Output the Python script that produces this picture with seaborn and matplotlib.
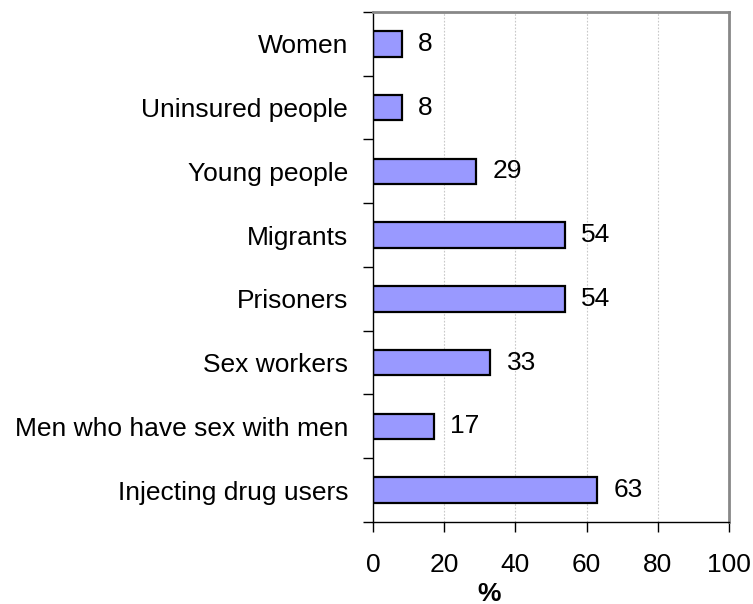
import pandas as pd
import numpy as np
import matplotlib.pyplot as plt
import seaborn as sns

groups = ["Women", "Uninsured people", "Young people", "Migrants", "Prisoners",
          "Sex workers", "Men who have sex with men", "Injecting drug users"]
percent = [8, 8, 29, 54, 54, 33, 17, 63]
x_ticks = [0, 20, 40, 60, 80, 100]

df = pd.DataFrame({"group": groups, "percent": percent})

sns.set_style("white", {"xtick.bottom": True, "ytick.left": True,
                        "text.color": "black", "xtick.color": "black",
                        "ytick.color": "black", "axes.labelcolor": "black"})
plt.rcParams["font.family"] = ["Liberation Sans", "DejaVu Sans"]
fs = 19

fig = plt.figure(figsize=(7.53, 6.04), dpi=100)
ax = fig.add_axes([0.4954, 0.1358, 0.4727, 0.8444])

sns.barplot(data=df, x="percent", y="group", orient="h", color="#9999FF",
            saturation=1, width=0.4, edgecolor="black", linewidth=1.6, ax=ax)

for i, v in enumerate(percent):
    ax.text(v + 4.5, i, str(v), va="center", ha="left", fontsize=fs, color="black")

ax.set_xlim(0, 100)
ax.set_ylim(len(groups) - 0.5, -0.5)
ax.set_xticks(x_ticks)
ax.set_xticklabels([str(t) for t in x_ticks], fontsize=fs)
ax.tick_params(axis="x", direction="out", length=7, width=1, pad=15, color="black")
ax.tick_params(axis="y", which="major", length=0, pad=18, labelsize=fs)
ax.set_yticks(np.arange(-0.5, len(groups), 1), minor=True)
ax.tick_params(axis="y", which="minor", direction="out", length=7, width=1, color="black")

for g in x_ticks[1:-1]:
    ax.axvline(g, color="#c8c8c8", linestyle=(0, (1.5, 1.5)), linewidth=0.8, zorder=0)

ax.set_ylabel("")
ax.set_xlabel("%", fontsize=fs, fontweight="bold")
ax.xaxis.set_label_coords(0.326, -0.117)

for side in ["left", "bottom"]:
    ax.spines[side].set_color("black")
    ax.spines[side].set_linewidth(1)
for side in ["top", "right"]:
    ax.spines[side].set_color("#888888")
    ax.spines[side].set_linewidth(2)

fig.savefig("out.png", dpi=100)
